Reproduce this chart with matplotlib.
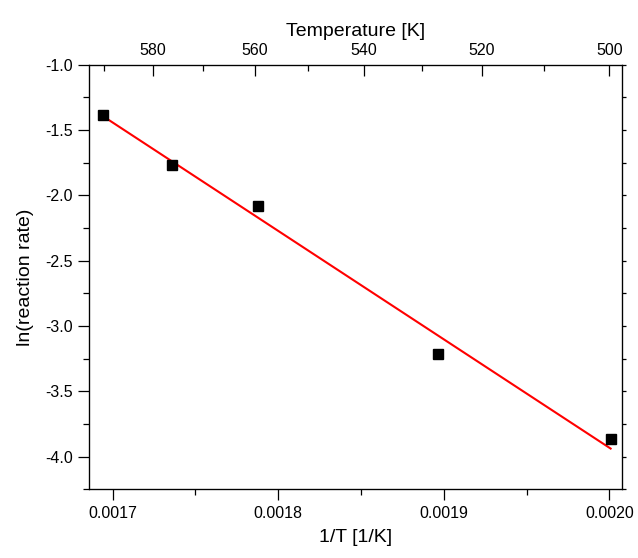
import matplotlib
matplotlib.use("Agg")
import matplotlib.pyplot as plt
import numpy as np

plt.rcParams['font.family'] = ['Liberation Sans', 'DejaVu Sans']

# data
inv_T = np.array([0.0016941, 0.0017360, 0.0017880, 0.0018967, 0.0020008])
ln_rate = np.array([-1.387, -1.766, -2.080, -3.217, -3.868])

# top axis temperatures
T_major = [580, 560, 540, 520, 500]
T_minor = [590, 570, 550, 530, 510]

fig = plt.figure(figsize=(6.38, 5.58), dpi=100)
ax = fig.add_axes([0.140, 0.123, 0.8355, 0.761])

# linear fit
slope, intercept = np.polyfit(inv_T, ln_rate, 1)
xfit = np.array([inv_T.min(), inv_T.max()])
ax.plot(xfit, slope * xfit + intercept, color='red', lw=1.5, zorder=2)
ax.plot(inv_T, ln_rate, 's', color='black', ms=7, zorder=3)

ax.set_xlim(0.0016859, 0.0020079)
ax.set_ylim(-4.25, -1.0)
ax.set_xticks([0.0017, 0.0018, 0.0019, 0.0020])
ax.set_xticklabels(['0.0017', '0.0018', '0.0019', '0.0020'])
ax.set_xticks([0.00175, 0.00185, 0.00195], minor=True)
ax.set_yticks(np.arange(-4.0, -0.99, 0.5))
ax.set_yticklabels(['%.1f' % v for v in np.arange(-4.0, -0.99, 0.5)])
ax.set_yticks(np.arange(-4.25, -0.99, 0.25), minor=True)

ax.tick_params(axis='both', which='major', direction='out', length=8, width=0.9,
               labelsize=11.5, pad=4)
ax.tick_params(axis='both', which='minor', direction='out', length=4, width=0.9)
# short ticks on the right edge, no labels
ax.tick_params(axis='y', which='both', right=True, labelright=False)
for t in ax.yaxis.get_major_ticks() + ax.yaxis.get_minor_ticks():
    t.tick2line.set_markersize(3)

for s in ax.spines.values():
    s.set_linewidth(0.9)

ax.set_xlabel('1/T [1/K]', fontsize=14, labelpad=6)
ax.set_ylabel('ln(reaction rate)', fontsize=14, labelpad=8)

# top temperature axis
top = ax.twiny()
top.set_xlim(ax.get_xlim())
top.set_xticks([1.0 / t for t in T_major])
top.set_xticklabels([str(t) for t in T_major])
top.set_xticks([1.0 / t for t in T_minor], minor=True)
top.tick_params(axis='x', which='major', direction='in', length=8, width=0.9,
                labelsize=11.5, pad=5)
top.tick_params(axis='x', which='minor', direction='in', length=4, width=0.9)
top.set_xlabel('Temperature [K]', fontsize=14, labelpad=5)

fig.savefig('out.png', dpi=100)
